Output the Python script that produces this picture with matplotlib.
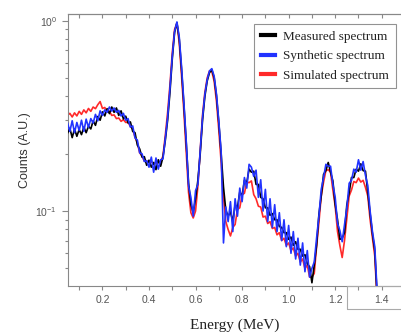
import numpy as np
import matplotlib
matplotlib.use("Agg")
import matplotlib.pyplot as plt
from matplotlib.ticker import MultipleLocator, LogLocator, NullFormatter
from matplotlib.patches import Rectangle

# energy bins (MeV), 0.05 ... 1.38 in 0.01 steps
energy = np.linspace(0.05, 1.38, 134)

measured = [
    0.257, 0.272, 0.243, 0.270, 0.247, 0.268, 0.252, 0.276, 0.258, 0.279,
    0.270, 0.298, 0.282, 0.314, 0.300, 0.332, 0.316, 0.345, 0.325, 0.352,
    0.330, 0.348, 0.318, 0.336, 0.305, 0.315, 0.290, 0.294, 0.262, 0.258,
    0.222, 0.212, 0.192, 0.193, 0.174, 0.185, 0.170, 0.180, 0.165, 0.186,
    0.172, 0.192, 0.235, 0.300, 0.420, 0.630, 0.870, 0.975, 0.800, 0.550,
    0.360, 0.228, 0.140, 0.108, 0.098, 0.116, 0.145, 0.200, 0.300, 0.400,
    0.482, 0.534, 0.551, 0.502, 0.402, 0.290, 0.200, 0.134, 0.101, 0.094,
    0.099, 0.088, 0.108, 0.104, 0.126, 0.120, 0.145, 0.141, 0.166, 0.160,
    0.162, 0.138, 0.138, 0.118, 0.116, 0.104, 0.104, 0.095, 0.097, 0.090,
    0.090, 0.083, 0.082, 0.077, 0.077, 0.071, 0.073, 0.066, 0.069, 0.063,
    0.063, 0.058, 0.059, 0.053, 0.051, 0.042, 0.052, 0.066, 0.096, 0.120,
    0.156, 0.163, 0.180, 0.160, 0.144, 0.108, 0.090, 0.071, 0.072, 0.077,
    0.108, 0.125, 0.150, 0.150, 0.166, 0.162, 0.177, 0.163, 0.162, 0.125,
    0.097, 0.076, 0.062, 0.036]

synthetic = [
    0.290, 0.262, 0.298, 0.258, 0.292, 0.265, 0.300, 0.262, 0.304, 0.275,
    0.306, 0.290, 0.322, 0.298, 0.336, 0.318, 0.340, 0.330, 0.352, 0.335,
    0.348, 0.330, 0.338, 0.316, 0.326, 0.300, 0.306, 0.276, 0.280, 0.242,
    0.236, 0.202, 0.200, 0.182, 0.184, 0.170, 0.192, 0.160, 0.190, 0.166,
    0.186, 0.188, 0.240, 0.310, 0.440, 0.650, 0.880, 0.985, 0.820, 0.570,
    0.370, 0.232, 0.135, 0.118, 0.094, 0.128, 0.138, 0.205, 0.310, 0.410,
    0.490, 0.545, 0.560, 0.510, 0.410, 0.295, 0.205, 0.068, 0.105, 0.088,
    0.112, 0.078, 0.116, 0.094, 0.132, 0.112, 0.150, 0.132, 0.176, 0.170,
    0.152, 0.164, 0.118, 0.146, 0.100, 0.130, 0.088, 0.116, 0.082, 0.108,
    0.078, 0.098, 0.070, 0.090, 0.065, 0.084, 0.060, 0.078, 0.056, 0.072,
    0.052, 0.068, 0.048, 0.062, 0.045, 0.050, 0.054, 0.072, 0.094, 0.130,
    0.150, 0.176, 0.172, 0.172, 0.138, 0.118, 0.086, 0.079, 0.069, 0.085,
    0.104, 0.140, 0.145, 0.166, 0.160, 0.186, 0.164, 0.182, 0.154, 0.136,
    0.100, 0.078, 0.065, 0.038]

simulated = [
    0.318, 0.326, 0.312, 0.328, 0.316, 0.334, 0.322, 0.340, 0.328, 0.346,
    0.334, 0.352, 0.345, 0.362, 0.376, 0.346, 0.350, 0.332, 0.334, 0.318,
    0.320, 0.306, 0.308, 0.296, 0.302, 0.292, 0.293, 0.278, 0.270, 0.244,
    0.228, 0.202, 0.195, 0.183, 0.183, 0.181, 0.181, 0.178, 0.179, 0.180,
    0.180, 0.195, 0.250, 0.330, 0.460, 0.680, 0.900, 0.970, 0.760, 0.510,
    0.330, 0.205, 0.125, 0.098, 0.092, 0.100, 0.135, 0.210, 0.320, 0.420,
    0.500, 0.545, 0.540, 0.480, 0.375, 0.265, 0.180, 0.118, 0.088, 0.080,
    0.074, 0.082, 0.085, 0.102, 0.104, 0.122, 0.124, 0.142, 0.141, 0.144,
    0.122, 0.116, 0.106, 0.105, 0.093, 0.094, 0.086, 0.088, 0.081, 0.082,
    0.075, 0.077, 0.070, 0.072, 0.066, 0.068, 0.062, 0.064, 0.058, 0.060,
    0.054, 0.056, 0.050, 0.052, 0.045, 0.045, 0.047, 0.065, 0.087, 0.120,
    0.142, 0.163, 0.165, 0.160, 0.129, 0.106, 0.078, 0.066, 0.057, 0.070,
    0.092, 0.120, 0.129, 0.143, 0.141, 0.149, 0.142, 0.145, 0.133, 0.120,
    0.090, 0.072, 0.058, 0.034]

labels = ["Measured spectrum", "Synthetic spectrum", "Simulated spectrum"]

fig = plt.figure(figsize=(4.02, 3.34), dpi=100)
ax = fig.add_axes([0.168, 0.145, 0.832, 0.813])

l3, = ax.plot(energy, simulated, color="#ff2a2a", lw=1.2, zorder=2)
l1, = ax.plot(energy, measured, color="black", lw=1.2, zorder=3)
l2, = ax.plot(energy, synthetic, color="#2233ff", lw=1.2, zorder=4)

ax.set_yscale("log")
ax.set_xlim(0.05, 1.487)
ax.set_ylim(0.0406, 1.084)

grey = "#888888"
for s in ["left", "top", "bottom"]:
    ax.spines[s].set_color(grey)
    ax.spines[s].set_linewidth(0.8)
ax.spines["right"].set_visible(False)

ax.xaxis.set_major_locator(MultipleLocator(0.2))
ax.xaxis.set_minor_locator(MultipleLocator(0.1))
ax.yaxis.set_major_locator(LogLocator(base=10))
ax.yaxis.set_minor_locator(LogLocator(base=10, subs=np.arange(2, 10)))
ax.yaxis.set_minor_formatter(NullFormatter())

ax.tick_params(axis="x", which="both", direction="out", length=3, width=0.8,
               color=grey, labelsize=7.5, labelcolor="#555555", top=False)
ax.tick_params(axis="y", which="major", direction="out", length=4, width=0.8,
               color=grey, labelsize=7.5, labelcolor="#555555")
ax.tick_params(axis="y", which="minor", direction="out", length=2.5, width=0.8,
               color=grey)
for lab in ax.get_xticklabels() + ax.get_yticklabels():
    lab.set_fontfamily("Liberation Sans")

# inward ticks along the top edge
top = ax.secondary_xaxis("top")
top.xaxis.set_major_locator(MultipleLocator(0.1))
top.tick_params(direction="in", length=3, width=0.8, color=grey, labeltop=False)
top.spines["top"].set_color(grey)

ax.set_xlabel("Energy (MeV)", fontfamily="Liberation Serif", fontsize=11,
              color="#222222", labelpad=10)
ax.set_ylabel("Counts (A.U.)", fontfamily="Liberation Sans", fontsize=9,
              color="#333333", labelpad=3)

leg = ax.legend([l1, l2, l3], labels, loc="upper right",
                bbox_to_anchor=(0.984, 0.928), bbox_transform=fig.transFigure,
                prop={"family": "Liberation Serif", "size": 9.5},
                frameon=True, fancybox=False, handlelength=1.1,
                handletextpad=0.6, borderpad=0.5, labelspacing=0.55,
                borderaxespad=0)
leg.get_frame().set_edgecolor("#777777")
leg.get_frame().set_linewidth(0.8)
for h in leg.get_lines():
    h.set_linewidth(3)
for t in leg.get_texts():
    t.set_color("#222222")

# stray box around the last tick label
fig.patches.append(Rectangle((0.864, 0.075), 0.2, 0.07, transform=fig.transFigure,
                             fill=False, edgecolor="#aaaaaa", lw=0.8))

fig.savefig("out.png", dpi=100)
